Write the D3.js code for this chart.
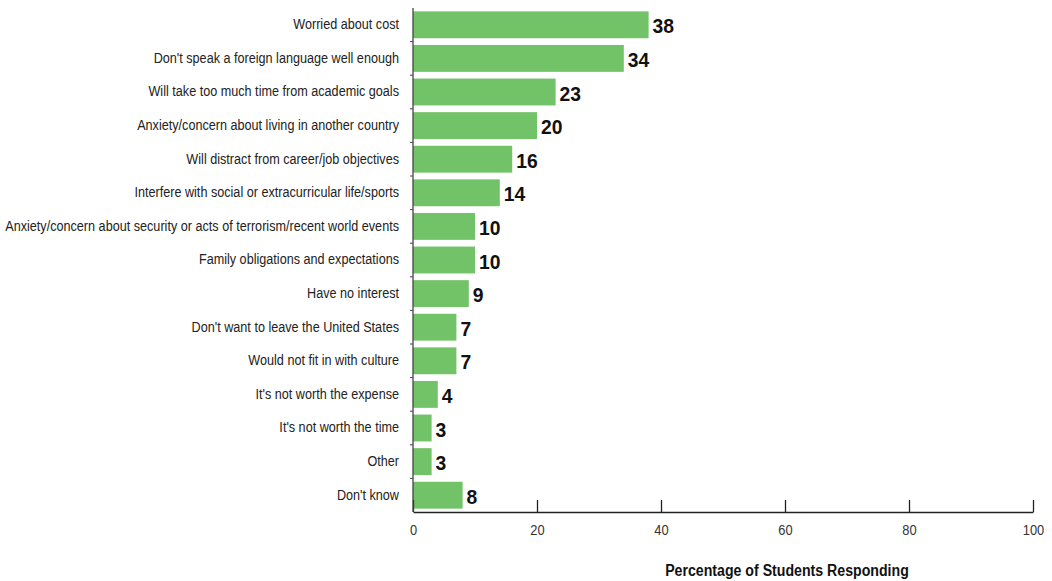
<!DOCTYPE html>
<html><head><meta charset="utf-8">
<script src="https://cdn.jsdelivr.net/npm/d3@7/dist/d3.min.js"></script>
<style>
body{margin:0;background:#fff;}
text{font-family:"Liberation Sans",Arial,sans-serif;}
</style></head>
<body><svg id="c" width="1052" height="581"></svg>
<script>
const categories = ["Worried about cost","Don't speak a foreign language well enough","Will take too much time from academic goals","Anxiety/concern about living in another country","Will distract from career/job objectives","Interfere with social or extracurricular life/sports","Anxiety/concern about security or acts of terrorism/recent world events","Family obligations and expectations","Have no interest","Don't want to leave the United States","Would not fit in with culture","It's not worth the expense","It's not worth the time","Other","Don't know"];
const values = [38,34,23,20,16,14,10,10,9,7,7,4,3,3,8];
const xTicks = [0,20,40,60,80,100];
const xTitle = "Percentage of Students Responding";

const svg = d3.select("#c");
const m = {left:413, right:1033, top:8, bottom:512};
const x = d3.scaleLinear().domain([0,100]).range([m.left,m.right]);
const y = d3.scaleBand().domain(categories).range([m.top,m.bottom]).paddingInner(0.2).paddingOuter(0.1);

svg.selectAll("rect.bar").data(values).join("rect").attr("class","bar")
  .attr("x",x(0)).attr("y",(d,i)=>y(categories[i]))
  .attr("width",d=>x(d)-x(0)).attr("height",y.bandwidth()).attr("fill","#72c267");

const vs = 0.92;
svg.selectAll("text.val").data(values).join("text").attr("class","val")
  .attr("transform",(d,i)=>`translate(${x(d)+4},${y(categories[i])+y.bandwidth()/2+1}) scale(${vs},1)`)
  .attr("dy","0.36em").attr("font-size",21).attr("font-weight","bold").attr("fill","#111")
  .text(d=>d);

// x axis
const xa = svg.append("g").attr("transform",`translate(0,${m.bottom})`)
  .call(d3.axisBottom(x).tickValues(xTicks).tickSizeInner(-12).tickSizeOuter(0).tickPadding(13));
xa.select(".domain").attr("stroke","#222").attr("stroke-width",1.3);
xa.selectAll(".tick line").attr("stroke","#222").attr("stroke-width",1.3);
xa.selectAll(".tick text").attr("font-size",14).attr("fill","#333")
  .attr("font-family",null).attr("transform","scale(0.92,1)");

// y axis line
svg.append("line").attr("x1",m.left).attr("x2",m.left).attr("y1",m.top).attr("y2",m.bottom)
  .attr("stroke","#444").attr("stroke-width",1.3);
const step = y.step();
svg.append("g").selectAll("line").data(categories.slice(1)).join("line")
  .attr("x1",m.left-3).attr("x2",m.left)
  .attr("y1",d=>y(d)-step*0.1).attr("y2",d=>y(d)-step*0.1)
  .attr("stroke","#444");

// y labels (condensed by horizontal scale)
const lab = svg.append("g").selectAll("text").data(categories).join("text")
  .attr("text-anchor","end").attr("dy","0.36em").attr("font-size",15).attr("fill","#222")
  .text(d=>d);
const maxW = d3.max(lab.nodes(), n=>n.getComputedTextLength());
const ls = 394/maxW;
lab.attr("transform",d=>`translate(399,${y(d)+y.bandwidth()/2-1}) scale(${ls},1)`);

const t = svg.append("text").attr("text-anchor","middle")
  .attr("font-size",17).attr("font-weight","bold").attr("fill","#111").text(xTitle);
const tw = t.node().getComputedTextLength();
t.attr("transform",`translate(787,576) scale(${244/tw},1)`);
</script></body></html>
